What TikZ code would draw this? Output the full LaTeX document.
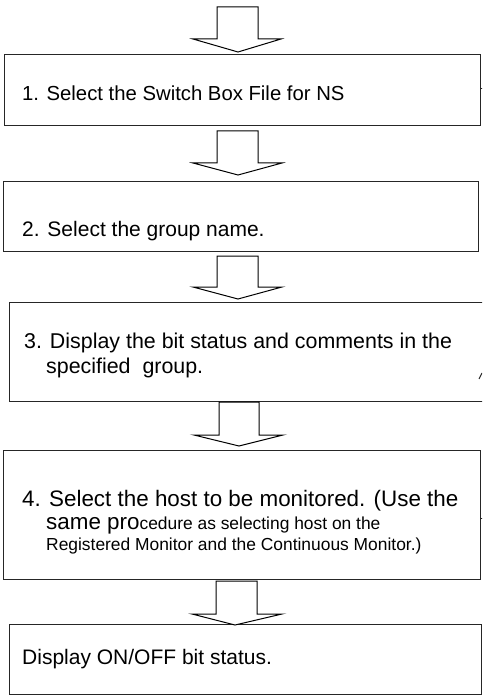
\documentclass[tikz,border=0pt]{standalone}
\usepackage{fontspec}
\setmainfont{Liberation Sans}
\newcommand\bigtxt{\fontsize{21}{25}\selectfont}
\newcommand\smalltxt{\fontsize{17.4}{21}\selectfont}
\begin{document}
\begin{tikzpicture}[x=1pt,y=-1pt,
  box/.style={draw=black!85, line width=1.3pt, fill=none, inner sep=0pt, anchor=north west},
  txt/.style={inner sep=0pt, anchor=base west, font=\bigtxt},
  barrow/.style={draw=black, line width=1pt, fill=white, line join=miter},
  tick/.style={draw=black!85, line width=1pt}]
\useasboundingbox (0,0) rectangle (482,695);
\fill[white] (0,0) rectangle (482,695);
\clip (0,0) rectangle (482,695);
% boxes
\node[box, minimum width=476pt, minimum height=71pt] (b1) at (4,54) {};
\node[box, minimum width=475pt, minimum height=70pt] (b2) at (3,181) {};
\node[box, minimum width=476pt, minimum height=99pt] (b3) at (9,302) {};
\node[box, minimum width=477pt, minimum height=129pt] (b4) at (3,450) {};
\node[box, minimum width=472pt, minimum height=70pt] (b5) at (9,624) {};
% small marks at right edges
\coordinate (m1a) at (480,89); \coordinate (m1b) at (483,89);
\draw[tick] (m1a) -- (m1b);
\coordinate (m3a) at (479,379); \coordinate (m3b) at (482,373);
\draw[tick] (m3a) -- (m3b);
\coordinate (m4a) at (480,518); \coordinate (m4b) at (483,518);
\draw[tick] (m4a) -- (m4b);
% block arrows
\newcommand\blockarrow[8]{%
  \draw[barrow] (#1,#3) -- (#2,#3) -- (#2,#4) -- (#6,#4) -- (#7,#8) -- (#5,#4) -- (#1,#4) -- cycle;}
\blockarrow{217}{258}{7}{39}{193}{281}{238}{52}
\blockarrow{217}{258}{131}{163}{193}{282}{238}{175}
\blockarrow{217}{258}{256}{287}{193}{282}{238}{299}
\blockarrow{219}{259}{402}{435}{194}{283}{239}{446}
\blockarrow{216}{257}{581}{614}{192}{282}{235}{625}
% texts
\node[txt, font=\fontsize{20.3}{24}\selectfont] (t1) at (22,101) {1. Select the Switch Box File for NS};
\node[txt] (t2) at (22,236) {2. Select the group name.};
\node[txt, font=\fontsize{21.4}{25}\selectfont] (t3a) at (24,348) {3. Display the bit status and comments in the};
\node[txt, font=\fontsize{21.4}{25}\selectfont] (t3b) at (46,373) {specified\ \ group.};
\node[txt, font=\fontsize{22.4}{26}\selectfont] (t4a) at (22,506) {4. Select the host to be monitored. (Use the};
\node[txt, font=\fontsize{22.4}{26}\selectfont] (t4b) at (46,529) {same pro{\smalltxt cedure as selecting host on the}};
\node[txt, font=\smalltxt] (t4c) at (46,550) {Registered Monitor and the Continuous Monitor.)};
\node[txt] (t5) at (22,664) {Display ON/OFF bit status.};
\end{tikzpicture}
\end{document}
